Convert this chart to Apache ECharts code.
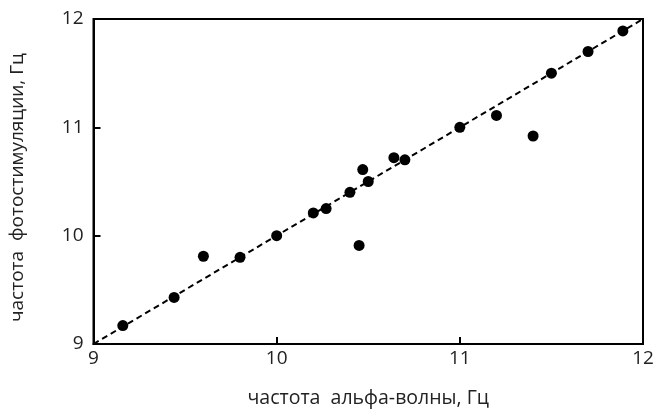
<!DOCTYPE html>
<html>
<head>
<meta charset="utf-8">
<script src="https://cdn.jsdelivr.net/npm/echarts@6/dist/echarts.min.js"></script>
<style>
  html, body { margin: 0; padding: 0; background: #fff; }
  #chart { width: 655px; height: 410px; }
</style>
</head>
<body>
<div id="chart"></div>
<script>
// частота альфа-волны (x) и частота фотостимуляции (y), Гц
var alphaFreq = [9.16, 9.44, 9.60, 9.80, 10.00, 10.20, 10.27, 10.40, 10.45, 10.47,
  10.50, 10.64, 10.70, 11.00, 11.20, 11.40, 11.50, 11.70, 11.89];
var photoFreq = [9.17, 9.43, 9.81, 9.80, 10.00, 10.21, 10.25, 10.40, 9.91, 10.61,
  10.50, 10.72, 10.70, 11.00, 11.11, 10.92, 11.50, 11.70, 11.89];
// линия y = x
var diagX = [9, 12];
var diagY = [9, 12];
var xTicks = [9, 10, 11, 12];
var yTicks = [9, 10, 11, 12];

var points = alphaFreq.map(function (v, i) { return [v, photoFreq[i]]; });
var diag = diagX.map(function (v, i) { return [v, diagY[i]]; });

var font = '"Open Sans", "Noto Sans", sans-serif';
var chart = echarts.init(document.getElementById('chart'));

var option = {
  backgroundColor: '#fff',
  animation: false,
  grid: {
    left: 93.5,
    right: 12,
    top: 19,
    bottom: 66,
    outerBoundsMode: 'none',
    containLabel: false,
    show: true,
    borderColor: '#000',
    borderWidth: 2
  },
  xAxis: {
    type: 'value',
    min: xTicks[0],
    max: xTicks[xTicks.length - 1],
    interval: 1,
    name: 'частота  альфа-волны, Гц',
    nameLocation: 'middle',
    nameGap: 44,
    nameTextStyle: { color: '#222', fontSize: 19.5, fontFamily: font },
    axisLine: { show: true, lineStyle: { color: '#000', width: 2 } },
    axisTick: { show: true, inside: true, length: 7, lineStyle: { color: '#000', width: 2 } },
    axisLabel: { color: '#222', fontSize: 19, fontFamily: font, margin: 5 },
    splitLine: { show: false }
  },
  yAxis: {
    type: 'value',
    min: yTicks[0],
    max: yTicks[yTicks.length - 1],
    interval: 1,
    name: 'частота  фотостимуляции, Гц',
    nameLocation: 'middle',
    nameGap: 66,
    nameTextStyle: { color: '#222', fontSize: 19, fontFamily: font, padding: [0, 12, 0, 0] },
    axisLine: { show: true, lineStyle: { color: '#000', width: 2 } },
    axisTick: { show: true, inside: true, length: 7, lineStyle: { color: '#000', width: 2 } },
    axisLabel: { color: '#222', fontSize: 19, fontFamily: font, margin: 10 },
    splitLine: { show: false }
  },
  series: [
    {
      type: 'line',
      data: diag,
      symbol: 'none',
      silent: true,
      lineStyle: { color: '#000', width: 2, type: [6, 4] },
      z: 1
    },
    {
      type: 'scatter',
      data: points,
      symbol: 'circle',
      symbolSize: 11,
      itemStyle: { color: '#000', opacity: 1 },
      z: 2
    }
  ]
};
chart.setOption(option);
</script>
</body>
</html>
